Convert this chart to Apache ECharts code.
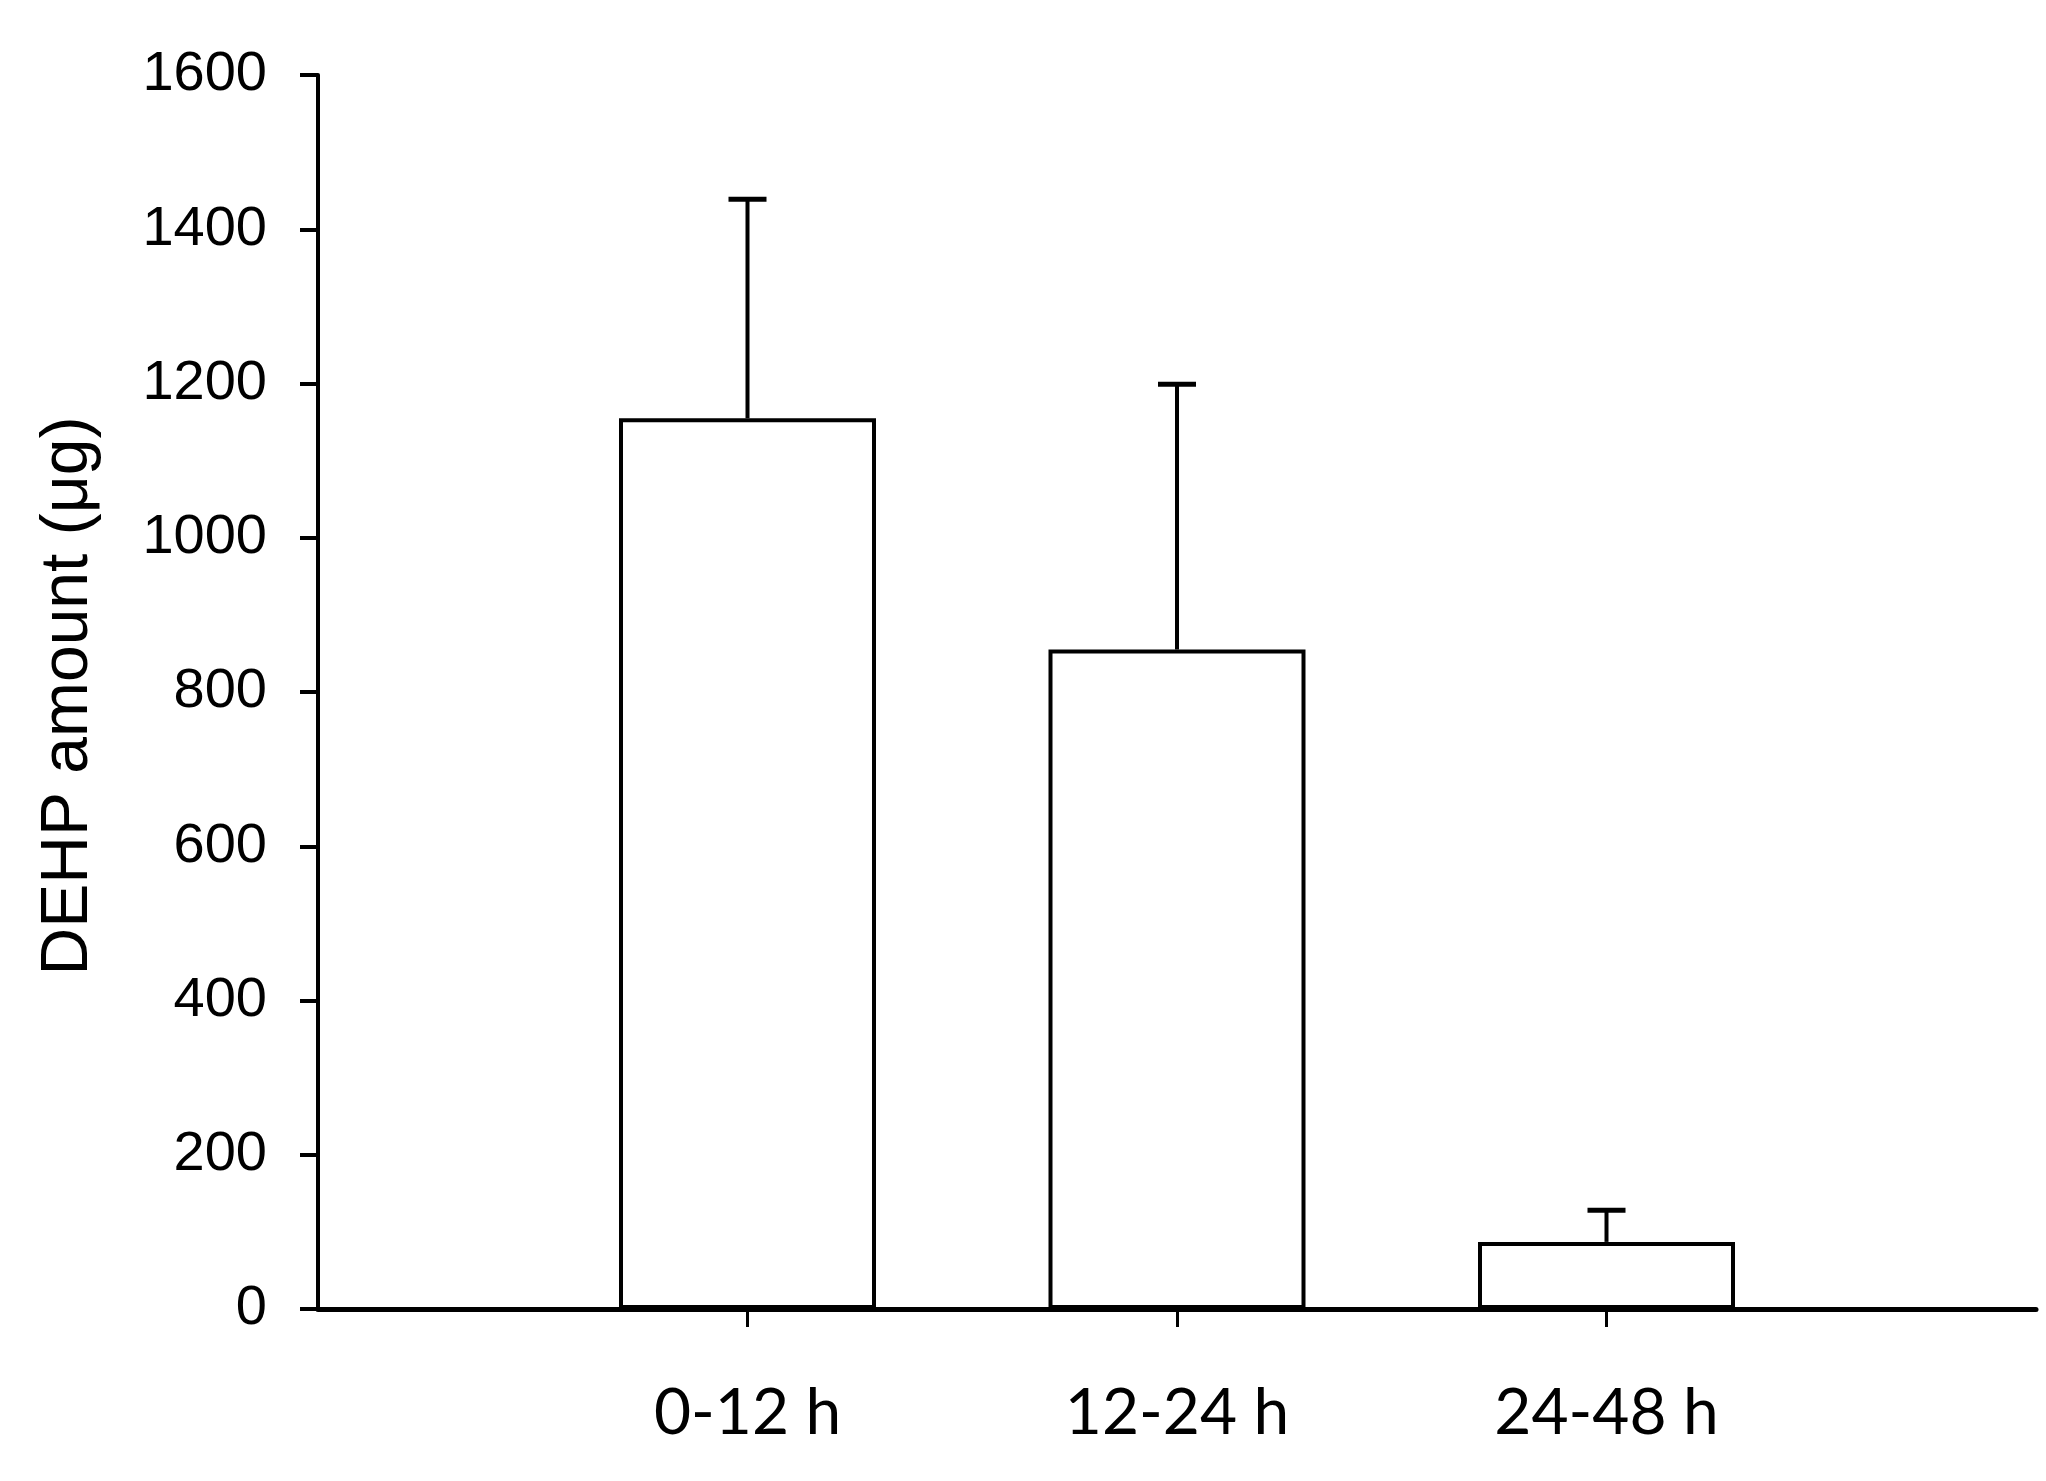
<!DOCTYPE html>
<html>
<head>
<meta charset="utf-8">
<script src="https://cdn.jsdelivr.net/npm/echarts@6/dist/echarts.min.js"></script>
<style>
  html, body { margin: 0; padding: 0; background: #fff; }
  #chart { width: 2046px; height: 1481px; }
</style>
</head>
<body>
<div id="chart"></div>
<script>
const categories = ['0-12 h', '12-24 h', '24-48 h'];
const amounts = [1155, 855, 87];
const errorTops = [1439, 1199, 128];
const yTicks = [0, 200, 400, 600, 800, 1000, 1200, 1400, 1600];

// one empty slot on each side, so bars sit at positions 1..3 of 0..4
const slots = [''].concat(categories, ['']);
const barData = [null].concat(amounts, [null]);
const errData = categories.map((c, i) => [i + 1, amounts[i], errorTops[i]]);

const chart = echarts.init(document.getElementById('chart'));

chart.setOption({
  animation: false,
  backgroundColor: '#fff',
  grid: { left: 318, right: 10, top: 75, bottom: 172, containLabel: false },
  xAxis: {
    type: 'category',
    data: slots,
    boundaryGap: false,
    z: 5,
    axisLine: { lineStyle: { color: '#000', width: 5 } },
    axisTick: {
      length: 18,
      lineStyle: { color: '#000', width: 3 },
      interval: (idx) => idx > 0 && idx < slots.length - 1,
    },
    axisLabel: {
      interval: (idx) => idx > 0 && idx < slots.length - 1,
      margin: 72,
      color: '#000',
      fontFamily: 'Lato',
      fontSize: 64,
      lineHeight: 64,
    },
    splitLine: { show: false },
  },
  yAxis: {
    type: 'value',
    min: yTicks[0],
    max: yTicks[yTicks.length - 1],
    interval: 200,
    z: 5,
    name: 'DEHP amount (\u03bcg)',
    nameLocation: 'middle',
    nameGap: 216,
    nameTextStyle: {
      color: '#000',
      fontFamily: 'Liberation Sans',
      fontSize: 66,
      padding: [0, 8, 0, 0],
    },
    axisLine: { show: true, lineStyle: { color: '#000', width: 4 } },
    axisTick: { show: true, length: 18, lineStyle: { color: '#000', width: 4 } },
    axisLabel: {
      margin: 51,
      color: '#000',
      fontFamily: 'Liberation Sans',
      fontSize: 56,
      formatter: (v) => String(v),
    },
    splitLine: { show: false },
  },
  series: [
    {
      type: 'bar',
      data: barData,
      barWidth: 257,
      itemStyle: { color: '#fff', borderColor: '#000', borderWidth: 4 },
      z: 2,
    },
    {
      type: 'custom',
      data: errData,
      z: 3,
      renderItem: (params, api) => {
        const x = api.value(0);
        const base = api.coord([x, api.value(1)]);
        const top = api.coord([x, api.value(2)]);
        const half = 19;
        return {
          type: 'group',
          children: [
            {
              type: 'line',
              shape: { x1: base[0], y1: base[1], x2: top[0], y2: top[1] },
              style: { stroke: '#000', lineWidth: 4 },
            },
            {
              type: 'line',
              shape: { x1: top[0] - half, y1: top[1], x2: top[0] + half, y2: top[1] },
              style: { stroke: '#000', lineWidth: 5 },
            },
          ],
        };
      },
    },
  ],
});
</script>
</body>
</html>
